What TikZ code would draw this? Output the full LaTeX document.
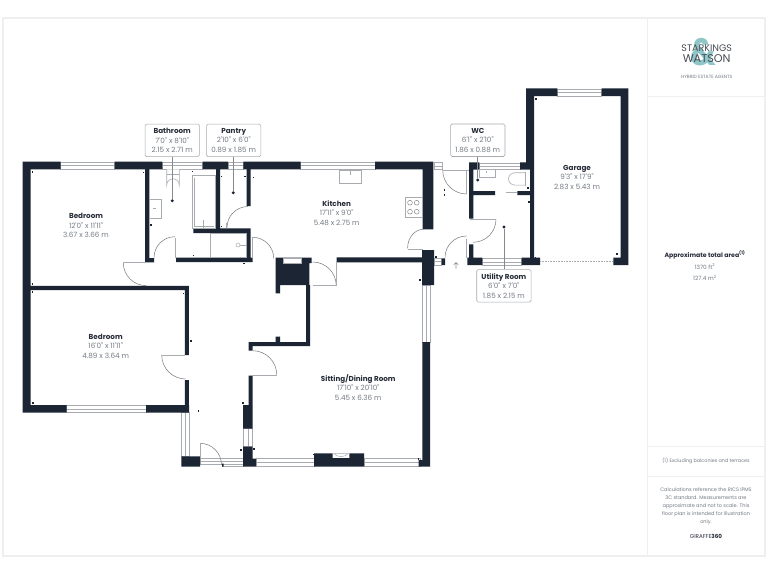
\documentclass[tikz,border=0pt]{standalone}
\usepackage{fontspec}
\setmainfont{Poppins}[Ligatures=TeXOff]
\definecolor{wallc}{HTML}{1B2534}
\definecolor{fixc}{HTML}{A8ABB0}
\definecolor{txtg}{HTML}{737A84}
\definecolor{headc}{HTML}{262C38}
\definecolor{framec}{HTML}{EFEFEF}
\definecolor{teal}{HTML}{8FC6C7}
\tikzset{
  x=1pt,y=-1pt,
  wall/.style={fill=wallc},
  win/.style={draw=fixc,line width=0.5pt,fill=white},
  fix/.style={draw=fixc,line width=0.9pt,fill=white},
  doorarc/.style={draw=fixc!70!black,line width=0.5pt},
  leaf/.style={draw=fixc,line width=0.7pt},
  lead/.style={draw=fixc!80!black,line width=0.6pt},
  labelbox/.style={draw=fixc,line width=0.6pt,rounded corners=1.5pt,fill=white,align=center,
    font=\fontsize{7.2}{9.6}\selectfont,text=txtg,minimum width=54.3pt,minimum height=32.5pt,inner sep=0pt},
  roomlabel/.style={align=center,font=\fontsize{7.2}{9.6}\selectfont,text=txtg,inner sep=0pt},
  paneltxt/.style={align=center,font=\fontsize{5}{8}\selectfont,text=txtg,inner sep=0pt},
  pin/.style={circle,fill=wallc,inner sep=0pt,minimum size=3.2pt},
  tick/.style={fill=wallc}
}
\newcommand{\rh}[1]{{\bfseries\color{headc}#1}}
\newcommand{\hwn}[4]{\draw[win] (#1,#3) rectangle (#2,#4); \draw[win] (#1,{(#3+#4)/2}) -- (#2,{(#3+#4)/2});}
\newcommand{\vwn}[4]{\draw[win] (#1,#3) rectangle (#2,#4); \draw[win] ({(#1+#2)/2},#3) -- ({(#1+#2)/2},#4);}
\begin{document}
\begin{tikzpicture}
\useasboundingbox (0,0) rectangle (768,576);
\fill[white] (0,0) rectangle (768,576);
% frame and side panel
\draw[framec,line width=1.2pt] (3,18) rectangle (765,556);
\draw[framec,line width=1pt] (647.5,18) -- (647.5,556);
\draw[framec,line width=1pt] (647.5,96) -- (765,96);
\draw[framec,line width=1pt] (647.5,446.5) -- (765,446.5);
\draw[framec,line width=1pt] (647.5,476) -- (765,476);

% windows
\hwn{60.7}{114.7}{162}{169.3}
\hwn{162.3}{202.5}{162}{169.3}
\hwn{228}{243.3}{162}{169.3}
\hwn{300.7}{375}{162}{169.3}
\hwn{434}{442.7}{162.5}{169.3}
\hwn{479.3}{520}{163}{169.3}
\hwn{557.3}{601.7}{89}{96}
\hwn{482.3}{521.7}{258.5}{265}
\hwn{434}{441.7}{258}{265}
\hwn{66.7}{146}{405.5}{412.7}
\hwn{256}{314}{458.3}{466.5}
\hwn{364}{420}{458.3}{466.5}
\hwn{200}{243}{458.3}{464}
\draw[win] (222,464) rectangle (243,466.5);
\vwn{181.5}{189}{412.7}{456.5}
\vwn{243.5}{252}{428.5}{446.7}
\vwn{422.7}{430}{285}{342}

% walls
\fill[wall]
  % outer top band
  (22.7,161.7) rectangle (60.7,169.3)
  (114.7,161.7) rectangle (162.3,169.3)
  (202.5,161.7) rectangle (228,169.3)
  (243.3,161.7) rectangle (300.7,169.3)
  (375,161.7) rectangle (433.3,169.3)
  % outer left
  (22.7,161.7) rectangle (30.7,412.7)
  (22.7,405) rectangle (66.7,412.7)
  (146,405) rectangle (189,412.7)
  % bedroom divide
  (22.7,285.8) rectangle (188.8,290.2)
  (184.8,285.8) rectangle (188.8,355)
  (184.8,380) rectangle (188.8,412.7)
  % bathroom
  (145,161.7) rectangle (149.3,262.4)
  (145,258) rectangle (154,262.4)
  (176,257.5) rectangle (252.7,262.2)
  (216,165) rectangle (220.2,233)
  (193.4,228.3) rectangle (250.7,233)
  (246.7,228.3) rectangle (250.7,262)
  (246.7,165) rectangle (250.7,206)
  % kitchen right
  (422.7,161.7) rectangle (433.3,229.3)
  (422,250) rectangle (434,285)
  (336.7,257.4) rectangle (423,262.3)
  (441.7,258.3) rectangle (445,265)
  % chimney closet
  (275.7,257.7) rectangle (311.7,263)
  (275.7,257.7) rectangle (309.3,285)
  (275.7,285) rectangle (280,293.3)
  (306,285) rectangle (310,346)
  (275.7,336.7) rectangle (280,346)
  (248.5,342) rectangle (310,346)
  (248.5,342) rectangle (252.5,350.7)
  % hall east wall
  (248.7,375.5) rectangle (252.5,405)
  (243,405) rectangle (252.5,428.5)
  (243,446.7) rectangle (252.5,466.5)
  (243,458.5) rectangle (256,466.5)
  % entrance block
  (181.3,456.3) rectangle (200,466.7)
  (222,463.5) rectangle (223.5,466.7)
  % sitting room
  (422.3,342) rectangle (430,466.7)
  (418.5,460) rectangle (430,466.7)
  (314,453.3) rectangle (332.7,466.7)
  (349.3,453.3) rectangle (364,466.7)
  (332.7,458) rectangle (349.3,466.7)
  % utility / WC
  (469,162.3) rectangle (479.3,169.5)
  (469,162.3) rectangle (473.3,218.5)
  (473.3,191) rectangle (495,195)
  (517.3,191) rectangle (530,195)
  (469,244.3) rectangle (473.3,258)
  (467.3,257.7) rectangle (482.3,265)
  (520,162.3) rectangle (534,169.5)
  (530,162.3) rectangle (534,265)
  (521.7,257.7) rectangle (540,265)
  % garage
  (526,88.3) rectangle (534,169.5)
  (526,88.3) rectangle (557.3,96)
  (601.7,88.3) rectangle (628.3,96)
  (620.7,88.3) rectangle (628.3,265)
  (613.3,257.7) rectangle (628.3,265);

% fireplace notches
\draw[win] (283.3,258) rectangle (301.7,263.3);
\draw[win] (332.7,453.6) -- (349.3,453.6) (334,453.6) .. controls (337,457.6) and (345,457.6) .. (348,453.6);

% fixtures
\draw[fix] (192.7,175.7) rectangle (215.8,228.3);
\draw[fixc,line width=0.5pt] (194.5,177.5) -- (194.5,226.5) -- (214,226.5);
\draw[fixc,line width=0.5pt] (203.5,220) -- (203.5,228.3);
\draw[fix,line width=0.6pt] (149.3,199) rectangle (161.7,218.3);
\draw[fixc,line width=0.5pt] (153,208.5) -- (156,208.5);
\draw[fix,line width=0.6pt] (166.7,169.3) -- (166.7,185) arc[start angle=-180,end angle=0,x radius=6.3,y radius=6.2] -- (179.3,169.3);
\draw[fixc,line width=0.5pt] (166.7,174) -- (179.3,174);
\draw[fix] (210.8,233.3) rectangle (246.7,257.3);
\draw[fixc,line width=0.5pt,fill=white] (238,245) circle[radius=2];
\draw[fixc,line width=0.5pt] (240,245) -- (246.7,245);
\draw[fix] (339.3,170) rectangle (361.7,183.3);
\draw[fixc,line width=0.5pt] (350.5,170) -- (350.5,175);
\draw[fix,line width=0.6pt] (405,197.7) rectangle (422.7,217.7);
\foreach \cx/\cy in {410/202.7,416.7/202.7,410/211.7,416.7/211.7}
  \draw[fixc!80!black,line width=0.5pt] (\cx,\cy) circle[radius=2.4];
\draw[fix,line width=0.6pt] (479.3,169.5) rectangle (495,177.7);
\draw[fixc,line width=0.5pt] (486,170.5) -- (486,173);
\draw[fix,line width=0.6pt] (525.5,172.7) -- (515,172.7) arc[start angle=-90,end angle=-270,x radius=6.5,y radius=6.2] -- (525.5,185.1);
\draw[fixc,line width=0.5pt] (525.5,172) -- (525.5,186);

% doors
\draw[doorarc] (123.3,262.7) arc[start angle=180,end angle=90,radius=23];
\draw[leaf] (123.3,262.4) -- (146,262.4);
\draw[doorarc] (161.7,355) arc[start angle=180,end angle=90,radius=24];
\draw[leaf] (161.7,355) -- (185,355);
\draw[doorarc] (154,257.7) arc[start angle=-180,end angle=-90,radius=21];
\draw[leaf] (175,238) -- (175,258);
\draw[doorarc] (248,206.5) arc[start angle=-90,end angle=-180,radius=21];
\draw[leaf] (226.8,223) -- (226.8,228.3);
\draw[doorarc] (252.7,237.3) arc[start angle=-90,end angle=0,radius=21];
\draw[leaf] (252.7,237.3) -- (252.7,257.5);
\draw[doorarc] (312.7,262) arc[start angle=-90,end angle=0,radius=23.5];
\draw[leaf] (336.4,262.3) -- (336.4,285) -- (313,285);
\draw[doorarc] (252.7,350.7) arc[start angle=-90,end angle=0,radius=24];
\draw[leaf] (250,375) -- (276.7,375);
\draw[doorarc] (200,443.3) arc[start angle=-90,end angle=0,radius=21.5];
\draw[leaf] (200,443.3) -- (200,458);
\draw[doorarc] (423.3,229.3) arc[start angle=-90,end angle=-180,x radius=15.7,y radius=19];
\draw[leaf] (407.5,249.5) -- (423,249.5);
\draw[doorarc] (442.7,170) arc[start angle=180,end angle=90,radius=24];
\draw[leaf] (442.7,170) -- (469,170);
\draw[leaf] (466.5,170) -- (466.5,194);
\draw[doorarc] (496,219.3) arc[start angle=0,end angle=90,radius=23];
\draw[leaf] (470,219.3) -- (496,219.3);
\draw[doorarc] (445,257.5) arc[start angle=-180,end angle=-90,radius=21.5];
\draw[leaf] (466.3,239.3) -- (466.3,257.7);
\draw[leaf] (506,192.7) -- (517.3,192.7);
\draw[fixc,line width=0.8pt,dash pattern=on 1pt off 0.6pt] (540,261.5) -- (613.3,261.5);
% entrance arrow
\draw[fixc!80!black,line width=0.6pt] (456,268.5) -- (456,262.5) (453.8,264.6) -- (456,262.5) -- (458.2,264.6);

% tiny marks
\foreach \mx/\my in {32.3/172,143.7/172.5,192.3/171.3,221.7/176.7,245/176.7,253.3/177.3,151/225,221.7/226.7,193.3/255.7,244/263.3,32.7/284,32.3/292,183.3/293.3,191/341,33/403,198.7/411,243/403,241/450,254/449,314/454.5,418.7/459,420/280,444.3/190,444.3/195,436/257,535.7/258,617/254,536/99,528/188,529/202}
  \fill[tick] (\mx-0.7,\my-0.7) rectangle (\mx+0.7,\my+0.7);

% room labels
\node[roomlabel] (bed1) at (86,225.5) {\rh{Bedroom}\\12'0" x 11'11"\\3.67 x 3.66 m};
\node[roomlabel] (bed2) at (105.7,346.2) {\rh{Bedroom}\\16'0" x 11'11"\\4.89 x 3.64 m};
\node[roomlabel] (kit) at (336.7,212.8) {\rh{Kitchen}\\17'11" x 9'0"\\5.48 x 2.75 m};
\node[roomlabel] (sit) at (358.3,387.5) {\rh{Sitting/Dining Room}\\17'10" x 20'10"\\5.45 x 6.36 m};
\node[roomlabel] (gar) at (577,177.5) {\rh{Garage}\\9'3" x 17'9"\\2.83 x 5.43 m};

% callout boxes
\node[labelbox] (bathbox) at (172.2,140.4) {\rh{Bathroom}\\7'0" x 8'10"\\2.15 x 2.71 m};
\node[labelbox] (panbox) at (233.7,140.4) {\rh{Pantry}\\2'10" x 6'0"\\0.89 x 1.85 m};
\node[labelbox] (wcbox) at (477.8,140.2) {\rh{WC}\\6'1" x 2'10"\\1.86 x 0.88 m};
\node[labelbox] (utilbox) at (503.9,285.8) {\rh{Utility Room}\\6'0" x 7'0"\\1.85 x 2.15 m};
\node[pin] (bathpin) at (172.3,200.7) {};
\node[pin] (panpin) at (233.3,192.7) {};
\node[pin] (wcpin) at (477.7,180) {};
\node[pin] (utilpin) at (504,227) {};
\draw[lead] (bathpin) -- (bathpin |- bathbox.south);
\draw[lead] (panpin) -- (panpin |- panbox.south);
\draw[lead] (wcpin) -- (wcpin |- wcbox.south);
\draw[lead] (utilpin) -- (utilpin |- utilbox.north);

% logo
\node[text=teal,inner sep=0pt,xscale=0.85,font=\fontsize{38}{38}\selectfont\bfseries] (amp) at (703,52) {\&};
\node[text=headc!85,inner sep=0pt,font=\fontsize{9.5}{10}\selectfont] (logo1) at (706.7,48.3) {STARKINGS};
\node[text=headc!85,inner sep=0pt,font=\fontsize{11.2}{11}\selectfont] (logo2) at (706.7,58.5) {WATSON};
\node[text=txtg,inner sep=0pt,font=\fontsize{4.6}{5}\selectfont] (logo3) at (706.7,77) {HYBRID ESTATE AGENTS};

% panel text
\node[inner sep=0pt,text=headc,font=\fontsize{6.2}{8}\selectfont\bfseries] (area) at (705,255) {Approximate total area\textsuperscript{(1)}};
\node[paneltxt,font=\fontsize{5.8}{8}\selectfont] (ft) at (705,266.7) {1370 ft\textsuperscript{2}};
\node[paneltxt,font=\fontsize{5.8}{8}\selectfont] (mt) at (705,278) {127.4 m\textsuperscript{2}};
\node[paneltxt,font=\fontsize{4.85}{8}\selectfont] (note) at (706,460.7) {(1) Excluding balconies and terraces};
\node[paneltxt] (calc) at (706,506.2) {Calculations reference the RICS IPMS\\3C standard. Measurements are\\approximate and not to scale. This\\floor plan is intended for illustration\\only.};
\node[paneltxt,text=headc,font=\fontsize{5.6}{8}\selectfont] (gir) at (706,536.7) {GIRAFFE{\bfseries 360}};
\end{tikzpicture}
\end{document}
